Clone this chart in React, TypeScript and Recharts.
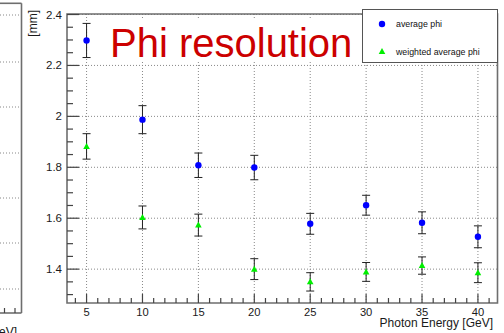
import { CartesianGrid, ErrorBar, Legend, ReferenceArea, Scatter, ScatterChart, XAxis, YAxis } from 'recharts';

const energies = [5, 10, 15, 20, 25, 30, 35, 40];
const avgPhi = [2.298, 1.987, 1.808, 1.799, 1.578, 1.651, 1.582, 1.527];
const avgPhiErr = [0.067, 0.055, 0.048, 0.048, 0.041, 0.039, 0.043, 0.043];
const weightedPhi = [1.882, 1.603, 1.573, 1.4, 1.35, 1.389, 1.414, 1.386];
const weightedPhiErr = [0.05, 0.045, 0.043, 0.041, 0.036, 0.037, 0.034, 0.039];

const xTicks = [4, 5, 6, 7, 8, 9, 10, 11, 12, 13, 14, 15, 16, 17, 18, 19, 20, 21, 22, 23, 24, 25, 26, 27, 28, 29, 30, 31, 32, 33, 34, 35, 36, 37, 38, 39, 40, 41];
const xLabels = [5, 10, 15, 20, 25, 30, 35, 40];
const yTicks = [1.3, 1.35, 1.4, 1.45, 1.5, 1.55, 1.6, 1.65, 1.7, 1.75, 1.8, 1.85, 1.9, 1.95, 2, 2.05, 2.1, 2.15, 2.2, 2.25, 2.3, 2.35, 2.4];
const yLabels = [1.4, 1.6, 1.8, 2, 2.2, 2.4];

const X_DOMAIN = [3.25, 41.75];
const Y_DOMAIN = [1.267, 2.402];
const FONT = '"Liberation Sans", Arial, Helvetica, sans-serif';

const avgData = energies.map((e, i) => ({ e, v: avgPhi[i], err: avgPhiErr[i] }));
const weightedData = energies.map((e, i) => ({ e, v: weightedPhi[i], err: weightedPhiErr[i] }));

const isIn = (list: number[], v: number) => list.some((l) => Math.abs(l - v) < 1e-6);

// ROOT style: ticks point into the frame, labels only on the major ones
const XTick = (props: any) => {
  const { x, y, payload } = props;
  const major = isIn(xLabels, payload.value);
  const edge = y - 5;
  return (
    <g>
      <line x1={x} x2={x} y1={edge} y2={edge - (major ? 9 : 5)} stroke="#444" strokeWidth={1.2} />
      {major && (
        <text x={x} y={y} dy="0.68em" textAnchor="middle" fontSize={11.2} fontFamily={FONT} fill="#1a1a1a">
          {payload.value}
        </text>
      )}
    </g>
  );
};

const YTick = (props: any) => {
  const { x, y, payload } = props;
  const major = isIn(yLabels, payload.value);
  const edge = x + 5;
  return (
    <g>
      <line x1={edge} x2={edge + (major ? 12 : 6)} y1={y} y2={y} stroke="#444" strokeWidth={1.2} />
      {major && (
        <text x={x} y={y} dy="0.35em" textAnchor="end" fontSize={11.5} fontFamily={FONT} fill="#1a1a1a">
          {Math.round(payload.value * 10) / 10}
        </text>
      )}
    </g>
  );
};

const Dot = (props: any) => <circle cx={props.cx} cy={props.cy} r={3.2} fill="#0000ff" />;
const Tri = (props: any) => (
  <polygon points={`${props.cx},${props.cy - 3.5} ${props.cx - 3.3},${props.cy + 2.5} ${props.cx + 3.3},${props.cy + 2.5}`} fill="#00ee00" />
);

const LegendBox = (props: any) => {
  const items = props.payload || [];
  return (
    <div style={{ width: 136, height: 54, border: '1px solid #555', background: '#fff', boxSizing: 'border-box' }}>
      <svg width={134} height={52}>
        {items.map((it: any, i: number) => {
          const cy = i === 0 ? 14 : 41.5;
          return (
            <g key={it.value}>
              {i === 0 ? <circle cx={19} cy={cy} r={3.2} fill={it.color} /> : <polygon points={`19,${cy - 3.5} 15.7,${cy + 2.5} 22.3,${cy + 2.5}`} fill={it.color} />}
              <text x={33} y={cy} dy="0.35em" fontSize={8.8} fontFamily={FONT} fill="#111">{it.value}</text>
            </g>
          );
        })}
      </svg>
    </div>
  );
};

// edge of the neighbouring pad that is cut off on the left
const leftGrid = [15, 62, 107, 153, 198, 243, 289];

export default function App() {
  return (
    <div style={{ position: 'absolute', left: 0, top: 0, width: 504, height: 333, background: '#fff', overflow: 'hidden' }}>
      <svg width={504} height={333} style={{ position: 'absolute', left: 0, top: 0 }}>
        {leftGrid.map((y) => (
          <line key={y} x1={0} x2={21} y1={y} y2={y} stroke="#888" strokeDasharray="1 2" />
        ))}
        <line x1={0} x2={21.5} y1={3.3} y2={3.3} stroke="#6e6e6e" strokeWidth={1.6} />
        <line x1={0} x2={21.5} y1={313} y2={313} stroke="#6e6e6e" strokeWidth={1.6} />
        <line x1={21.5} x2={21.5} y1={3.3} y2={313} stroke="#6e6e6e" strokeWidth={1.6} />
        <line x1={4.5} x2={4.5} y1={313} y2={308} stroke="#444" strokeWidth={1.2} />
        <line x1={15} x2={15} y1={313} y2={308} stroke="#444" strokeWidth={1.2} />
        <text x={17} y={335.5} textAnchor="end" fontSize={12} fontFamily={FONT} fill="#1a1a1a">[GeV]</text>
      </svg>
      <div style={{ position: 'absolute', left: 0, top: 0 }}>
        <ScatterChart width={504} height={333} margin={{ top: 14, right: 6.5, bottom: 0, left: 0 }}>
          <CartesianGrid horizontalValues={yLabels} verticalValues={xLabels} stroke="#888" strokeDasharray="1 2" />
          <XAxis
            type="number"
            dataKey="e"
            domain={X_DOMAIN}
            ticks={xTicks}
            interval={0}
            allowDataOverflow
            height={30}
            tickSize={0}
            tickMargin={5}
            axisLine={false}
            tick={<XTick />}
          />
          <YAxis
            type="number"
            dataKey="v"
            domain={Y_DOMAIN}
            ticks={yTicks}
            interval={0}
            allowDataOverflow
            width={67}
            tickSize={0}
            tickMargin={5}
            axisLine={false}
            tick={<YTick />}
          />
          <ReferenceArea x1={X_DOMAIN[0]} x2={X_DOMAIN[1]} y1={Y_DOMAIN[0]} y2={Y_DOMAIN[1]} fill="none" stroke="#6e6e6e" strokeWidth={1.6} />
          <Scatter name="average phi" data={avgData} fill="#0000ff" shape={<Dot />} isAnimationActive={false}>
            <ErrorBar dataKey="err" direction="y" width={4} stroke="#222" strokeWidth={1} />
          </Scatter>
          <Scatter name="weighted average phi" data={weightedData} fill="#00ee00" shape={<Tri />} isAnimationActive={false}>
            <ErrorBar dataKey="err" direction="y" width={4} stroke="#222" strokeWidth={1} />
          </Scatter>
          <Legend
            layout="horizontal"
            align="center"
            verticalAlign="middle"
            wrapperStyle={{ left: 362, top: 9, width: 136, height: 54 }}
            content={<LegendBox />}
          />
        </ScatterChart>
      </div>
      <svg width={504} height={333} style={{ position: 'absolute', left: 0, top: 0, pointerEvents: 'none' }}>
        <rect x={97} y={20} width={264} height={41} fill="#fff" />
        <text x={110} y={56.5} fontSize={40} fontFamily={FONT} fill="#cc0000">Phi resolution</text>
        <text transform="rotate(-90, 37, 10)" x={37} y={10} textAnchor="end" fontSize={12} fontFamily={FONT} fill="#1a1a1a">[mm]</text>
        <text x={493} y={327} textAnchor="end" fontSize={12} fontFamily={FONT} fill="#1a1a1a">Photon Energy [GeV]</text>
      </svg>
    </div>
  );
}
